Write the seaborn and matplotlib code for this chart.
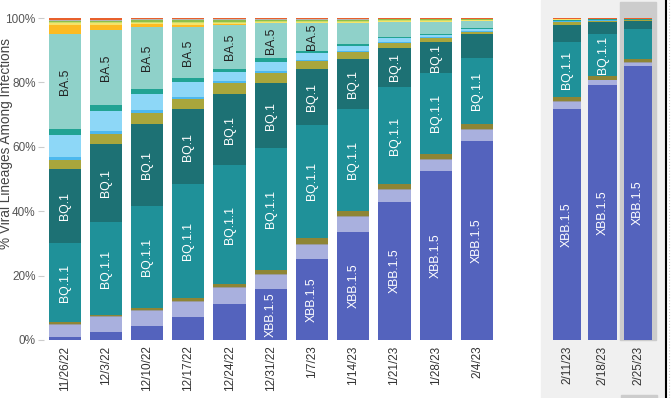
import pandas as pd
import matplotlib.pyplot as plt
import seaborn as sns
from matplotlib.patches import Rectangle

# weeks (first 11 = main panel, last 3 = nowcast panel)
weeks = ['11/26/22', '12/3/22', '12/10/22', '12/17/22', '12/24/22', '12/31/22', '1/7/23',
         '1/14/23', '1/21/23', '1/28/23', '2/4/23', '2/11/23', '2/18/23', '2/25/23']

# % share per lineage, bottom of the stack first
xbb15   = [1.0, 2.5, 4.3, 7.1, 11.2, 15.8, 25.2, 33.5, 42.9, 52.5, 61.8, 71.7, 79.2, 85.1]
xbb     = [3.7, 4.6, 4.7, 4.7, 4.9, 4.4, 4.3, 4.7, 3.7, 3.4, 3.4, 2.2, 1.5, 0.9]
ch11    = [0.3, 0.3, 0.3, 0.3, 0.3, 0.3, 0.4, 0.3, 0.3, 0.3, 0.4, 0.3, 0.2, 0.2]
bn1     = [0.6, 0.4, 0.6, 0.9, 1.0, 1.2, 1.8, 1.6, 1.5, 1.6, 1.5, 1.3, 1.1, 1.1]
bq11    = [24.5, 28.8, 31.7, 35.4, 36.9, 37.9, 35.1, 31.6, 30.2, 25.1, 20.5, 17.0, 13.0, 9.3]
bq1     = [23.0, 24.3, 25.5, 23.3, 22.1, 20.2, 17.4, 15.6, 12.1, 9.6, 7.4, 5.3, 3.8, 2.5]
bf7     = [2.8, 3.2, 3.4, 3.1, 3.4, 3.1, 2.4, 2.1, 1.5, 1.3, 0.7, 1.0, 0.2, 0.3]
ba275   = [0.9, 0.8, 0.9, 0.7, 0.6, 0.6, 0.4, 0.3, 0.4, 0.3, 0.3, 0.2, 0.4, 0.1]
ba5226  = [6.9, 6.2, 5.0, 4.6, 2.8, 2.8, 2.1, 1.6, 1.1, 0.6, 0.6, 0.1, 0.1, 0.0]
bf11    = [1.8, 1.9, 1.5, 1.3, 1.0, 1.3, 0.7, 0.6, 0.4, 0.3, 0.2, 0.2, 0.1, 0.1]
ba5     = [29.6, 23.3, 19.3, 15.8, 13.6, 10.8, 8.6, 6.5, 4.7, 3.8, 2.3, 0.2, 0.1, 0.1]
ba46    = [2.7, 1.5, 0.8, 0.7, 0.3, 0.2, 0.2, 0.2, 0.1, 0.1, 0.1, 0.0, 0.0, 0.0]
ba2752  = [0.5, 0.5, 0.5, 0.5, 0.4, 0.3, 0.3, 0.3, 0.2, 0.2, 0.2, 0.1, 0.0, 0.0]
ba2     = [0.4, 0.4, 0.4, 0.4, 0.4, 0.3, 0.3, 0.3, 0.2, 0.2, 0.1, 0.1, 0.1, 0.1]
ba4     = [0.5, 0.5, 0.4, 0.5, 0.4, 0.3, 0.3, 0.3, 0.3, 0.3, 0.2, 0.1, 0.0, 0.0]
b11529  = [0.3, 0.3, 0.3, 0.3, 0.3, 0.2, 0.2, 0.2, 0.1, 0.1, 0.1, 0.0, 0.0, 0.0]
other   = [0.5, 0.5, 0.4, 0.4, 0.4, 0.3, 0.3, 0.3, 0.3, 0.3, 0.2, 0.2, 0.2, 0.2]

lineages = ['XBB.1.5', 'XBB', 'CH.1.1', 'BN.1', 'BQ.1.1', 'BQ.1', 'BF.7', 'BA.2.75',
            'BA.5.2.6', 'BF.11', 'BA.5', 'BA.4.6', 'BA.2.75.2', 'BA.2', 'BA.4',
            'B.1.1.529', 'Other']
values = [xbb15, xbb, ch11, bn1, bq11, bq1, bf7, ba275, ba5226, bf11, ba5, ba46,
          ba2752, ba2, ba4, b11529, other]

colors = {'XBB.1.5': '#5463bd', 'XBB': '#a9b0de', 'CH.1.1': '#9a9a9a', 'BN.1': '#8e8535',
          'BQ.1.1': '#1f9199', 'BQ.1': '#1d7174', 'BF.7': '#a9a63c', 'BA.2.75': '#4db8ee',
          'BA.5.2.6': '#8dd7f7', 'BF.11': '#21a393', 'BA.5': '#8fd1c9', 'BA.4.6': '#fdbb22',
          'BA.2.75.2': '#f5e36a', 'BA.2': '#c8dc6a', 'BA.4': '#8dbf4b', 'B.1.1.529': '#b5b5b5',
          'Other': '#e8602c'}
labelled = {'XBB.1.5': 'white', 'BQ.1.1': 'white', 'BQ.1': 'white', 'BA.5': '#222222'}

df = pd.DataFrame(dict(zip(lineages, values)), index=weeks)
cum = df.cumsum(axis=1)
base = cum - df

sns.set_style('white')
plt.rcParams['font.family'] = ['Liberation Sans', 'DejaVu Sans']

fig = plt.figure(figsize=(6.71, 3.98), dpi=100)
W, H = 671, 398

# light panel behind the nowcast weeks
fig.patches.append(Rectangle((541 / W, 0), 124 / W, 1, transform=fig.transFigure,
                             color='#f0f0f0', zorder=-2))
fig.patches.append(Rectangle((621 / W, 0), 36 / W, 3 / H, transform=fig.transFigure,
                             color='#cccccc', zorder=-2))

ax1 = fig.add_axes([44 / W, 58 / H, 453.6 / W, 322 / H])
ax2 = fig.add_axes([549.25 / W, 58 / H, 106.5 / W, 322 / H])
ax2.set_facecolor('none')
ax2.add_patch(Rectangle((1.5, 0), 1.0, 105, color='#cccccc', clip_on=False, zorder=0))

panels = [(ax1, weeks[:11], 0.78), (ax2, weeks[11:], 0.79)]
for ax, wk, bw in panels:
    # draw cumulative totals from the top down so each layer shows its own segment
    for name in reversed(lineages):
        sns.barplot(x=wk, y=cum.loc[wk, name].values, color=colors[name], width=bw,
                    saturation=1, linewidth=0, ax=ax, zorder=2)
    for i, w in enumerate(wk):
        for name, tc in labelled.items():
            v = df.loc[w, name]
            if v > 1.8 * len(name) + 1:
                ax.text(i, base.loc[w, name] + v / 2, name, rotation=90, ha='center',
                        va='center', color=tc, fontsize=8.8, zorder=5)
    ax.set_ylim(0, 100)
    ax.set_xlim(-0.5, len(wk) - 0.5)
    ax.set_ylabel('')
    ax.set_xlabel('')
    ax.set_xticks(range(len(wk)))
    ax.set_xticklabels(wk, rotation=90)
    ax.set_xticks([i - 0.5 for i in range(len(wk) + 1)], minor=True)
    ax.tick_params(axis='x', which='major', length=0, labelsize=8.5, labelcolor='#333333', pad=4)
    ax.tick_params(axis='x', which='minor', length=4, color='#dddddd')
    sns.despine(ax=ax, left=True, bottom=True)

ax1.set_yticks([0, 20, 40, 60, 80, 100])
ax1.set_yticklabels(['0%', '20%', '40%', '60%', '80%', '100%'])
ax1.tick_params(axis='y', length=4, color='#cccccc', labelsize=8.5, labelcolor='#555555', pad=2)
ax1.tick_params(axis='y', left=True)
ax2.set_yticks([])

fig.text(6 / W, 1 - 143 / H, '% Viral Lineages Among Infections', rotation=90,
         ha='center', va='center', fontsize=9.8, color='#444444')

fig.add_artist(plt.Line2D([665.5 / W, 665.5 / W], [0, 1], color='black', lw=1.5))
fig.add_artist(plt.Line2D([668.5 / W, 668.5 / W], [0, 1], color='#cccccc', lw=0.8, ls=':'))

fig.savefig('out.png', dpi=100)
